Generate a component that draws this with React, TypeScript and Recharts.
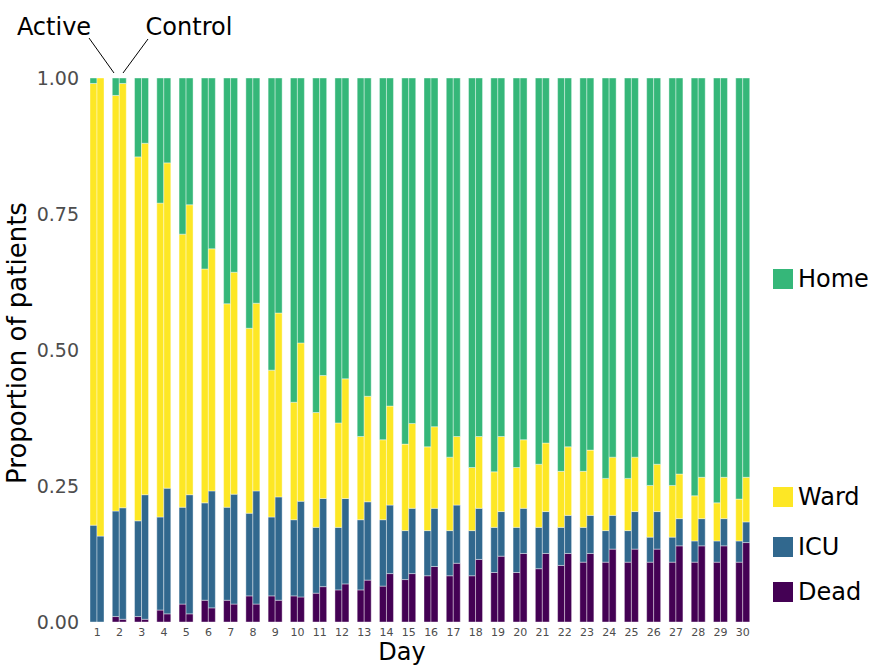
import React from 'react';
import { BarChart, Bar, XAxis, YAxis } from 'recharts';

const days = [1, 2, 3, 4, 5, 6, 7, 8, 9, 10, 11, 12, 13, 14, 15, 16, 17, 18, 19, 20, 21, 22, 23, 24, 25, 26, 27, 28, 29, 30];

// Active arm, proportion in each state
const activeDead = [0, 0.01, 0.01, 0.022, 0.033, 0.04, 0.04, 0.048, 0.048, 0.048, 0.053, 0.059, 0.059, 0.066, 0.078, 0.085, 0.085, 0.085, 0.091, 0.091, 0.098, 0.104, 0.11, 0.11, 0.11, 0.11, 0.11, 0.11, 0.11, 0.11];
const activeIcu = [0.178, 0.194, 0.176, 0.171, 0.178, 0.179, 0.171, 0.152, 0.145, 0.14, 0.121, 0.115, 0.129, 0.122, 0.09, 0.083, 0.083, 0.083, 0.083, 0.083, 0.076, 0.07, 0.064, 0.058, 0.058, 0.046, 0.046, 0.039, 0.039, 0.039];
const activeWard = [0.812, 0.764, 0.669, 0.577, 0.502, 0.43, 0.374, 0.34, 0.27, 0.216, 0.211, 0.192, 0.153, 0.147, 0.159, 0.154, 0.135, 0.116, 0.102, 0.11, 0.116, 0.103, 0.103, 0.096, 0.096, 0.095, 0.095, 0.083, 0.07, 0.077];

// Control arm
const controlDead = [0, 0.005, 0.005, 0.015, 0.015, 0.026, 0.033, 0.033, 0.04, 0.046, 0.065, 0.07, 0.077, 0.089, 0.089, 0.102, 0.108, 0.115, 0.121, 0.126, 0.126, 0.126, 0.126, 0.134, 0.134, 0.134, 0.14, 0.14, 0.14, 0.146];
const controlIcu = [0.158, 0.205, 0.229, 0.231, 0.219, 0.215, 0.202, 0.208, 0.19, 0.176, 0.162, 0.157, 0.144, 0.126, 0.12, 0.107, 0.107, 0.094, 0.082, 0.083, 0.077, 0.07, 0.07, 0.062, 0.069, 0.069, 0.05, 0.05, 0.05, 0.038];
const controlWard = [0.842, 0.78, 0.646, 0.598, 0.533, 0.445, 0.408, 0.345, 0.338, 0.291, 0.226, 0.22, 0.194, 0.182, 0.156, 0.15, 0.126, 0.132, 0.138, 0.126, 0.126, 0.126, 0.12, 0.107, 0.1, 0.087, 0.082, 0.076, 0.076, 0.082];

const yTicks = [0, 0.25, 0.5, 0.75, 1];

const COLORS = {
  Home: '#35b779',
  Ward: '#fde725',
  ICU: '#31688e',
  Dead: '#440154',
};

// home is whatever is left over
const rest = (...v: number[]) => Math.max(0, +(1 - v.reduce((s, x) => s + x, 0)).toFixed(3));

const data = days.map((d, i) => ({
  day: d,
  aDead: activeDead[i],
  aIcu: activeIcu[i],
  aWard: activeWard[i],
  aHome: rest(activeDead[i], activeIcu[i], activeWard[i]),
  cDead: controlDead[i],
  cIcu: controlIcu[i],
  cWard: controlWard[i],
  cHome: rest(controlDead[i], controlIcu[i], controlWard[i]),
}));

const font = '"DejaVu Sans", Verdana, sans-serif';

const legendItems = [
  { name: 'Home', top: 269 },
  { name: 'Ward', top: 487 },
  { name: 'ICU', top: 537 },
  { name: 'Dead', top: 582 },
];

export default function App() {
  const barProps = { barSize: 7, stroke: '#ffffff', strokeWidth: 0.4, isAnimationActive: false };
  return (
    <div style={{ position: 'absolute', left: 0, top: 0, width: 872, height: 665, background: '#fff', fontFamily: font, overflow: 'hidden' }}>
      <BarChart
        width={872}
        height={665}
        data={data}
        margin={{ top: 78, right: 118, bottom: 0, left: 30 }}
        barGap={0}
      >
        <XAxis
          dataKey="day"
          interval={0}
          tickLine={false}
          axisLine={false}
          tick={{ fontSize: 11, fill: '#4d4d4d', fontFamily: font }}
          tickMargin={0}
          height={43}
          label={{ value: 'Day', position: 'insideBottom', offset: 5, dx: -18, fontSize: 24, fill: '#000', fontFamily: font }}
        />
        <YAxis
          domain={[0, 1]}
          ticks={yTicks}
          tickFormatter={(v: number) => v.toFixed(2)}
          tickLine={false}
          axisLine={false}
          width={56}
          tickMargin={1}
          tick={{ fontSize: 19, fill: '#4d4d4d', fontFamily: font }}
          label={{ value: 'Proportion of patients', angle: -90, position: 'insideLeft', offset: -13, dy: -7, fontSize: 26, fill: '#000', fontFamily: font, style: { textAnchor: 'middle' } }}
        />
        <Bar dataKey="aDead" stackId="a" fill={COLORS.Dead} {...barProps} />
        <Bar dataKey="aIcu" stackId="a" fill={COLORS.ICU} {...barProps} />
        <Bar dataKey="aWard" stackId="a" fill={COLORS.Ward} {...barProps} />
        <Bar dataKey="aHome" stackId="a" fill={COLORS.Home} {...barProps} />
        <Bar dataKey="cDead" stackId="c" fill={COLORS.Dead} {...barProps} />
        <Bar dataKey="cIcu" stackId="c" fill={COLORS.ICU} {...barProps} />
        <Bar dataKey="cWard" stackId="c" fill={COLORS.Ward} {...barProps} />
        <Bar dataKey="cHome" stackId="c" fill={COLORS.Home} {...barProps} />
      </BarChart>

      <svg width={872} height={80} style={{ position: 'absolute', left: 0, top: 0, pointerEvents: 'none' }}>
        <text x={54} y={35} fontSize={24} textAnchor="middle" fontFamily={font} fill="#000">Active</text>
        <text x={189} y={35} fontSize={24} textAnchor="middle" fontFamily={font} fill="#000">Control</text>
        <line x1={89} y1={38} x2={114} y2={73} stroke="#000" strokeWidth={1} />
        <line x1={148} y1={39} x2={123} y2={73} stroke="#000" strokeWidth={1} />
      </svg>

      {legendItems.map((it) => (
        <div key={it.name} style={{ position: 'absolute', left: 773, top: it.top, display: 'flex', alignItems: 'center', height: 20 }}>
          <div style={{ width: 20, height: 20, background: COLORS[it.name as keyof typeof COLORS] }} />
          <span style={{ marginLeft: 5, fontSize: 24, color: '#000', fontFamily: font, lineHeight: '20px' }}>{it.name}</span>
        </div>
      ))}
    </div>
  );
}
